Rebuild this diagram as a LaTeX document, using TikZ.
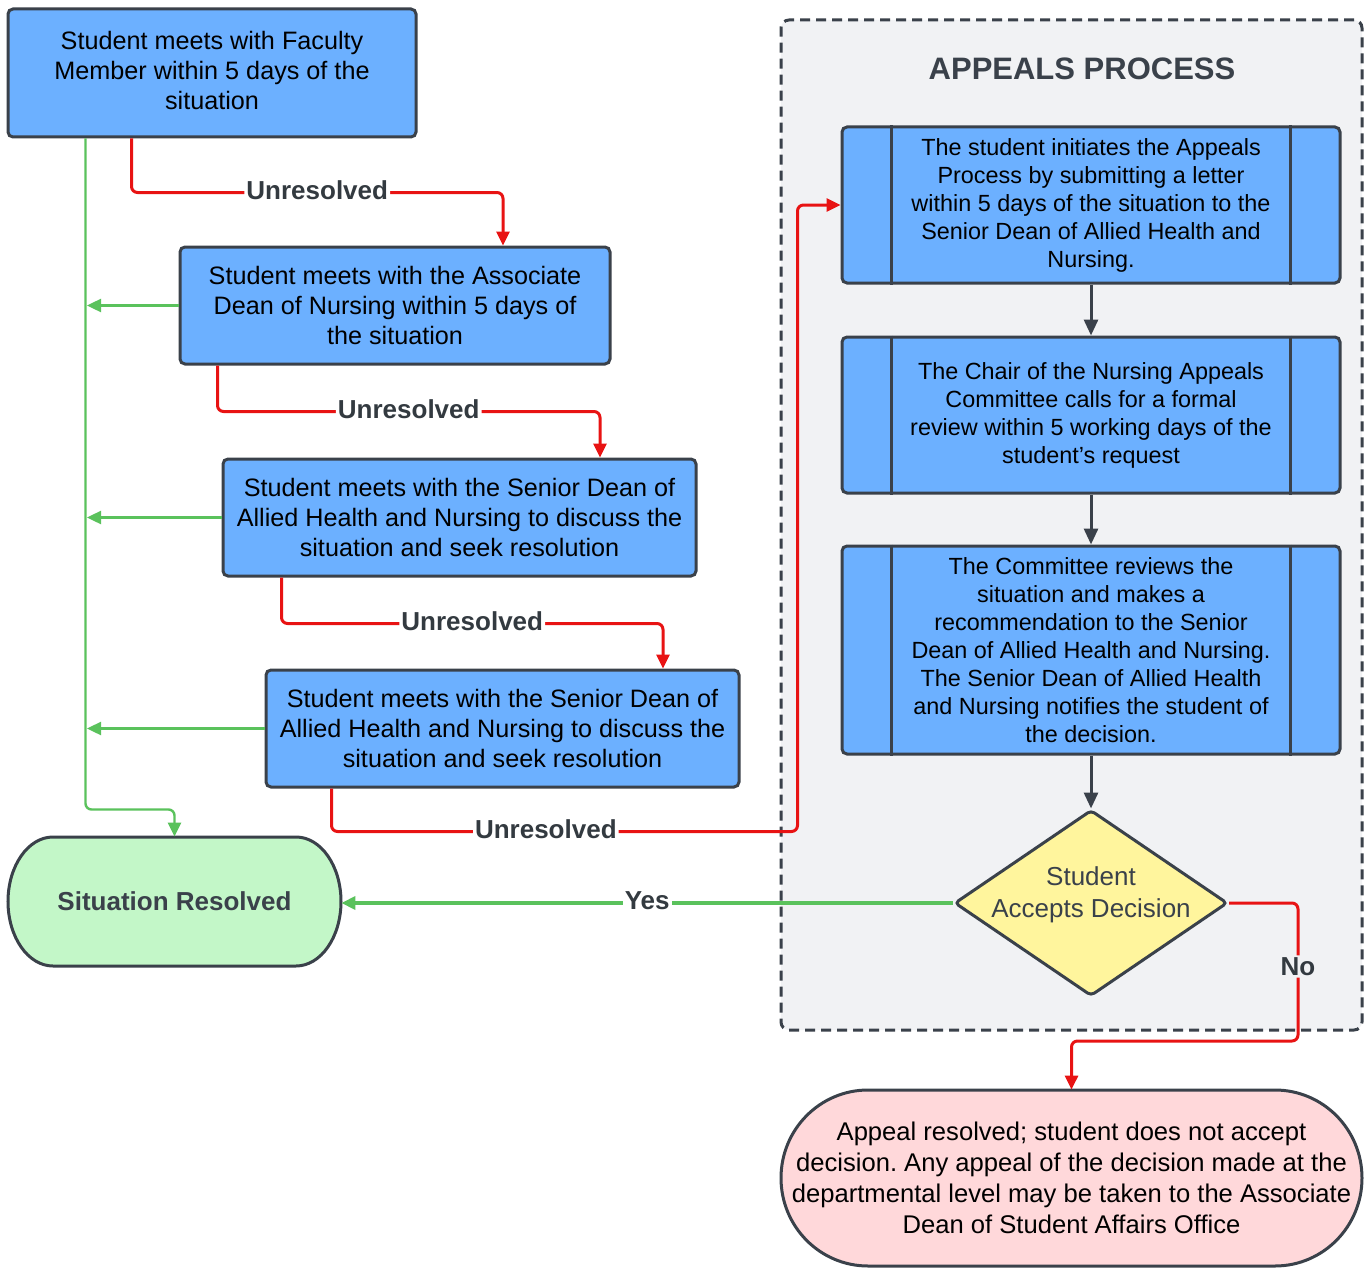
\documentclass[tikz,border=0pt]{standalone}
\usepackage{fontspec}
\setmainfont{Liberation Sans}
\usetikzlibrary{arrows.meta,shapes.geometric}
\definecolor{boxblue}{HTML}{6CB0FF}
\definecolor{edge}{HTML}{3A414A}
\definecolor{panel}{HTML}{F1F2F4}
\definecolor{ylw}{HTML}{FFF59D}
\definecolor{pinkf}{HTML}{FFD8DA}
\definecolor{grnf}{HTML}{C3F7C8}
\definecolor{redl}{HTML}{E81313}
\definecolor{grnl}{HTML}{5AC25C}
\definecolor{lbltxt}{HTML}{333A40}
\frenchspacing
\begin{document}
\begin{tikzpicture}[x=0.5pt,y=-0.5pt,
  stepbox/.style={draw=edge,line width=1.5pt,fill=boxblue,rounded corners=2.5pt,align=center,
    font=\fontsize{12.6}{15.2}\selectfont,inner sep=0pt},
  procbox/.style={stepbox,minimum width=249pt,font=\fontsize{11.7}{14}\selectfont},
  lbl/.style={font=\bfseries\fontsize{13}{15}\selectfont,text=lbltxt,fill=white,inner sep=1pt},
  tip/.style={-{Triangle[length=7pt,width=6.5pt]}},
  redln/.style={draw=redl,line width=1.5pt,rounded corners=3pt,tip},
  grnln/.style={draw=grnl,line width=1.2pt,rounded corners=3pt,tip},
  grnthick/.style={draw=grnl,line width=2pt,tip},
  darkln/.style={draw=edge,line width=1.5pt,-{Triangle[length=8pt,width=7pt]}},
  divline/.style={draw=edge,line width=1.5pt},
  stadium/.style={draw=edge,line width=1.5pt},
  txt/.style={align=center,inner sep=0pt}
]
\useasboundingbox (0,0) rectangle (1371,1268);

% appeals panel
\node[draw=edge,line width=1.5pt,dash pattern=on 5pt off 3pt,fill=panel,rounded corners=4pt,
  minimum width=290.5pt,minimum height=505pt,inner sep=0pt] (panelbox) at (1071.5,525) {};
\node[font=\bfseries\fontsize{15.5}{18}\selectfont,text=edge] (title) at (1082,69) {APPEALS PROCESS};

% left column
\node[stepbox,minimum width=204pt,minimum height=64pt] (b1) at (212,73)
  {Student meets with Faculty\\Member within 5 days of the\\situation\vphantom{y}};
\node[stepbox,minimum width=215pt,minimum height=58.5pt] (b2) at (395,305.5)
  {Student meets with the Associate\\Dean of Nursing within 5 days of\\the situation};
\node[stepbox,minimum width=236.5pt,minimum height=58.5pt] (b3) at (459.5,517.5)
  {Student meets with the Senior Dean of\\Allied Health and Nursing to discuss the\\situation and seek resolution};
\node[stepbox,minimum width=236.5pt,minimum height=58.5pt] (b4) at (502.5,728.5)
  {Student meets with the Senior Dean of\\Allied Health and Nursing to discuss the\\situation and seek resolution};

% situation resolved
\path[stadium,fill=grnf] (53,837) -- (296,837)
  arc[start angle=90,end angle=-90,x radius=22.5pt,y radius=32.25pt] -- (53,966)
  arc[start angle=270,end angle=90,x radius=22.5pt,y radius=32.25pt] -- cycle;
\node[txt,minimum width=166.5pt,minimum height=64.5pt,font=\bfseries\fontsize{13}{15}\selectfont,text=edge]
  (res) at (174.5,901.5) {Situation Resolved};

% appeals boxes
\node[procbox,minimum height=78pt] (a1) at (1091,205)
  {The student initiates the Appeals\\Process by submitting a letter\\within 5 days of the situation to the\\Senior Dean of Allied Health and\\Nursing.};
\node[procbox,minimum height=78pt] (a2) at (1091,415)
  {The Chair of the Nursing Appeals\\Committee calls for a formal\\review within 5 working days of the\\student’s request};
\node[procbox,minimum height=104pt] (a3) at (1091,650)
  {The Committee reviews the\\situation and makes a\\recommendation to the Senior\\Dean of Allied Health and Nursing.\\The Senior Dean of Allied Health\\and Nursing notifies the student of\\the decision.};
\foreach \n in {a1,a2,a3}{
  \draw[divline] ([xshift=25.5pt]\n.north west) -- ([xshift=25.5pt]\n.south west);
  \draw[divline] ([xshift=-25.5pt]\n.north east) -- ([xshift=-25.5pt]\n.south east);
}

% decision
\node[draw=edge,line width=1.5pt,fill=ylw,diamond,minimum width=136.5pt,minimum height=93pt,
  inner sep=0pt,rounded corners=2pt] (dia) at (1091,903) {};
\node[txt,font=\fontsize{13}{16}\selectfont,text=edge] (diatext) at (1091,895) {Student\\Accepts Decision};

% final outcome
\path[stadium,fill=pinkf] (868,1090) -- (1275,1090)
  arc[start angle=90,end angle=-90,x radius=43.5pt,y radius=44pt] -- (868,1266)
  arc[start angle=270,end angle=90,x radius=43.5pt,y radius=44pt] -- cycle;
\node[txt,minimum width=290.5pt,minimum height=88pt,font=\fontsize{12.8}{15.5}\selectfont]
  (pink) at (1071.5,1178)
  {Appeal resolved; student does not accept\\decision. Any appeal of the decision made at the\\departmental level may be taken to the Associate\\Dean of Student Affairs Office};

% connectors: unresolved
\draw[redln] ([xshift=62.5pt]b1.south west) -- ++(0,54) -| node[lbl,pos=0.25,yshift=1pt]{Unresolved} ([xshift=54pt]b2.north);
\draw[redln] ([xshift=19.5pt]b2.south west) -- ++(0,46) -| node[lbl,pos=0.25,yshift=1pt]{Unresolved} ([xshift=70.25pt]b3.north);
\draw[redln] ([xshift=30pt]b3.south west) -- ++(0,46) -| node[lbl,pos=0.25,yshift=1pt]{Unresolved} ([xshift=80.25pt]b4.north);
\draw[redln] ([xshift=33.5pt]b4.south west) -- ++(0,43) -- node[lbl,pos=0.46,yshift=1pt]{Unresolved} ++(466,0) |- (a1.west);

% connectors: resolved
\coordinate (gx) at (87,0);
\draw[grnln] ([xshift=39.5pt]b1.south west) -- ++(0,671) -| (res.north);
\draw[grnln] (b2.west) -- (b2.west -| gx);
\draw[grnln] (b3.west) -- (b3.west -| gx);
\draw[grnln] (b4.west) -- (b4.west -| gx);

% appeals flow
\draw[darkln] (a1) -- (a2);
\draw[darkln] (a2) -- (a3);
\draw[darkln] (a3) -- (dia);
\draw[grnthick] (dia.west) -- node[lbl,yshift=1pt]{Yes} (res.east |- dia.west);
\draw[redln] (dia.east) -- ++(69,0) -- node[lbl,fill=panel,pos=0.46]{No} ++(0,138) -| (pink.north);
\end{tikzpicture}
\end{document}
